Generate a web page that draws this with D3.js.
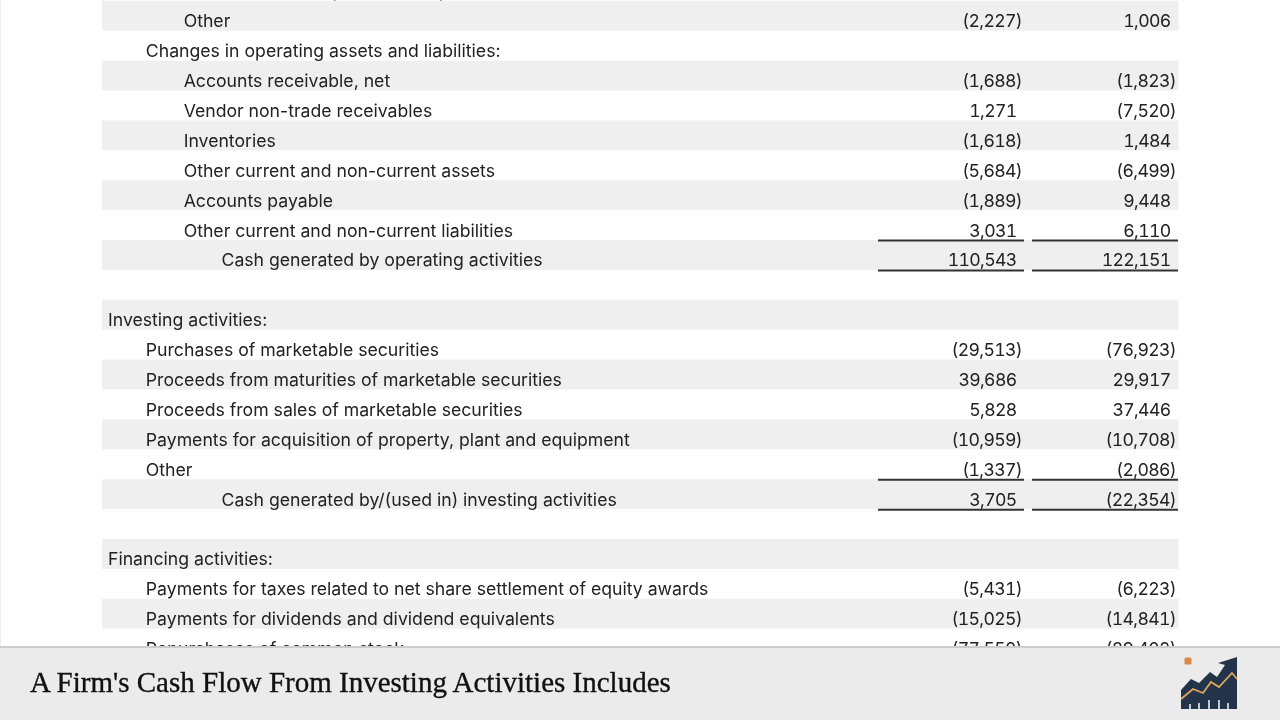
<!DOCTYPE html>
<html>
<head>
<meta charset="utf-8">
<script src="https://cdn.jsdelivr.net/npm/d3@7"></script>
<style>
  html, body { margin: 0; padding: 0; background: #fff; }
  svg { display: block; filter: blur(0.35px); }
  .row-label, .cell { font-family: Inter, "Liberation Sans", sans-serif; fill: #222; }
  .row-label { font-size: 17.65px; }
  .cell { font-size: 17.65px; font-variant-numeric: tabular-nums; letter-spacing: -0.65px; }
  .title { font-family: "Liberation Serif", serif; font-size: 29px; fill: #111; stroke: #111; stroke-width: 0.35px; }
</style>
</head>
<body>
<div id="chart"></div>
<script>
// rows of the statement, top to bottom, null = spacer row
const rowLabels = ["Share-based compensation expense", "Other", "Changes in operating assets and liabilities:", "Accounts receivable, net",
  "Vendor non-trade receivables", "Inventories", "Other current and non-current assets", "Accounts payable",
  "Other current and non-current liabilities", "Cash generated by operating activities", null,
  "Investing activities:", "Purchases of marketable securities", "Proceeds from maturities of marketable securities",
  "Proceeds from sales of marketable securities", "Payments for acquisition of property, plant and equipment",
  "Other", "Cash generated by/(used in) investing activities", null,
  "Financing activities:", "Payments for taxes related to net share settlement of equity awards",
  "Payments for dividends and dividend equivalents", "Repurchases of common stock"];
const rowIndents = [2, 2, 1, 2, 2, 2, 2, 2, 2, 3, 0, 0, 1, 1, 1, 1, 1, 3, 0, 0, 1, 1, 1];
const col2023 = ["10,833", "(2,227)", "", "(1,688)", "1,271", "(1,618)", "(5,684)", "(1,889)", "3,031", "110,543", "",
  "", "(29,513)", "39,686", "5,828", "(10,959)", "(1,337)", "3,705", "", "", "(5,431)", "(15,025)", "(77,550)"];
const col2022 = ["9,038", "1,006", "", "(1,823)", "(7,520)", "1,484", "(6,499)", "9,448", "6,110", "122,151", "",
  "", "(76,923)", "29,917", "37,446", "(10,708)", "(2,086)", "(22,354)", "", "", "(6,223)", "(14,841)", "(89,402)"];
const ruleAbove = [9, 17];
const ruleBelow = [9, 17];
const titleText = "A Firm's Cash Flow From Investing Activities Includes";

const width = 1280, height = 720;
const svg = d3.select("#chart").append("svg").attr("width", width).attr("height", height);
svg.append("rect").attr("width", width).attr("height", height).attr("fill", "#fff");
svg.append("rect").attr("width", 1).attr("height", height).attr("fill", "#eee");

// row index 0 sits just above the top edge, cut off
const y = d3.scaleLinear().domain([0, 1]).range([-29.1, 0.8]);
const x = d3.scaleLinear().domain([0, 3]).range([108, 221.5]);
const columns = [
  { values: col2023, x0: 878, x1: 1024, right: 1022 },
  { values: col2022, x0: 1032, x1: 1178, right: 1176 }
];

const rows = rowLabels.map((label, i) => ({ label, i, indent: rowIndents[i] }));

svg.selectAll(".stripe").data(rows.filter(d => d.i % 2 === 1))
  .join("rect").attr("class", "stripe")
  .attr("x", 102).attr("width", 1076.5)
  .attr("y", d => y(d.i)).attr("height", y(1) - y(0))
  .attr("fill", "#efefef");

svg.selectAll(".row-label").data(rows.filter(d => d.label))
  .join("text").attr("class", "row-label")
  .attr("x", d => x(d.indent))
  .attr("y", d => y(d.i) + 26.4)
  .text(d => d.label);

for (const col of columns) {
  svg.append("g").selectAll("text").data(col.values.map((v, i) => ({ v, i })).filter(d => d.v))
    .join("text").attr("class", "cell")
    .attr("text-anchor", "end")
    .attr("x", d => d.v.endsWith(")") ? col.right : col.right - 5.5)
    .attr("y", d => y(d.i) + 26.4)
    .text(d => d.v);

  svg.append("g").selectAll("line").data(ruleAbove.map(y).concat(ruleBelow.map(i => y(i + 1))))
    .join("line")
    .attr("x1", col.x0).attr("x2", col.x1)
    .attr("y1", d => d + 0.6).attr("y2", d => d + 0.6)
    .attr("stroke", "#333").attr("stroke-width", 2);
}

// footer band
svg.append("rect").attr("y", 646).attr("width", width).attr("height", 74).attr("fill", "#ebebeb");
svg.append("rect").attr("y", 646).attr("width", width).attr("height", 2).attr("fill", "#ccc");
svg.append("text").attr("class", "title").attr("x", 30).attr("y", 692).text(titleText);

// logo
const logo = svg.append("g").attr("transform", "translate(1160,640)");
logo.append("path")
  .attr("d", "M21 50L31 39L39 43L50 32L57 37L65 25L58 23L77 17V69H21Z")
  .attr("fill", "#23344a");
logo.append("path")
  .attr("d", "M21 59L33 49L43 53L51 42L59 47L72 33L77 39")
  .attr("fill", "none").attr("stroke", "#e0a85e").attr("stroke-width", 1.8);
logo.selectAll(".tick-mark").data([30, 39, 49, 59, 68]).join("line")
  .attr("x1", d => d).attr("x2", d => d).attr("y1", 69)
  .attr("y2", (d, i) => [64, 63, 60, 60, 63][i])
  .attr("stroke", "#eee").attr("stroke-width", 1.6);
logo.append("rect").attr("x", 24.5).attr("y", 17.5).attr("width", 7).attr("height", 7).attr("rx", 1.5).attr("fill", "#d98a4a");
</script>
</body>
</html>
